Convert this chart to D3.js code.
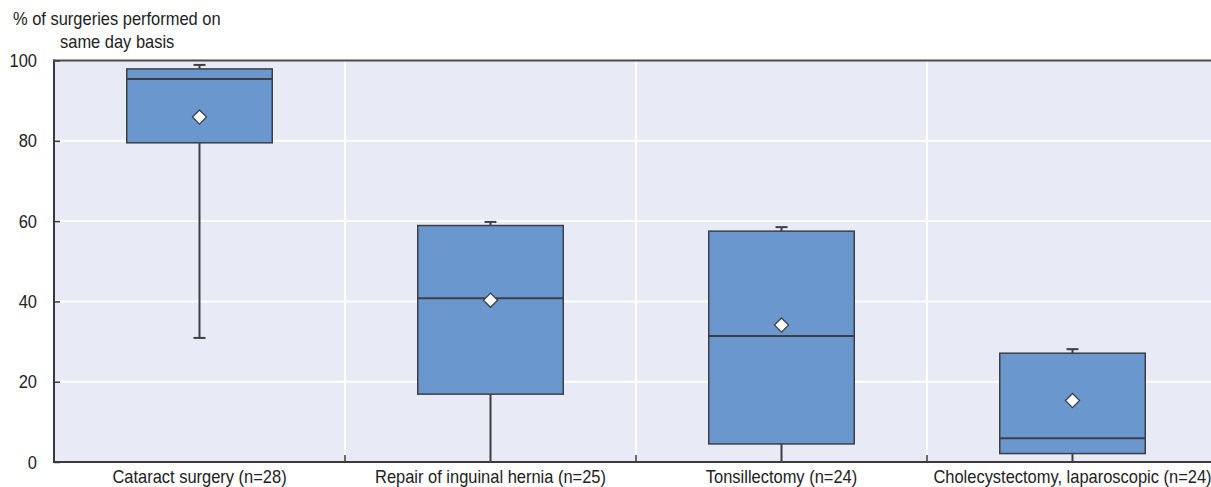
<!DOCTYPE html>
<html>
<head>
<meta charset="utf-8">
<script src="https://cdn.jsdelivr.net/npm/d3@7/dist/d3.min.js"></script>
<style>
  html, body { margin: 0; padding: 0; background: #ffffff; }
  svg { display: block; }
  text { font-family: "Liberation Sans", Arial, sans-serif; fill: #222; }
</style>
</head>
<body>
<svg id="chart" width="1211" height="487"></svg>
<script>
// Procedures and box-plot statistics (% of surgeries performed on a same-day basis)
const categories = [
  "Cataract surgery (n=28)",
  "Repair of inguinal hernia (n=25)",
  "Tonsillectomy (n=24)",
  "Cholecystectomy, laparoscopic (n=24)"
];
const whiskerLow  = [30.9, 0.0, 0.0, 0.0];
const quartile1   = [79.5, 16.9, 4.5, 2.1];
const medians     = [95.4, 40.8, 31.4, 5.9];
const quartile3   = [97.9, 58.9, 57.5, 27.1];
const whiskerHigh = [98.9, 59.8, 58.5, 28.1];
const means       = [85.9, 40.3, 34.1, 15.3];
const yTicks      = [0, 20, 40, 60, 80, 100];

const rows = categories.map((c, i) => ({
  cat: c, lo: whiskerLow[i], q1: quartile1[i], med: medians[i],
  q3: quartile3[i], hi: whiskerHigh[i], mean: means[i]
}));

const svg = d3.select("#chart");
const plotL = 54, plotR = 1218, plotT = 60.5, plotB = 462;

const x = d3.scaleBand().domain(categories).range([plotL, plotR]).padding(0);
const y = d3.scaleLinear().domain([0, 100]).range([plotB, plotT]);

const axisColor = "#3a3a3a";
const boxFill = "#6b97cf";
const boxStroke = "#3d3f45";
const fontSize = 18.5;
const squeeze = 0.89;   // condensed lettering

// text helper: condensed label placed at (tx, ty)
function label(parent, tx, ty, str, anchor) {
  parent.append("text")
    .attr("transform", `translate(${tx},${ty}) scale(${squeeze},1)`)
    .attr("text-anchor", anchor || "start")
    .attr("font-size", fontSize)
    .text(str);
}

// plot background
svg.append("rect")
  .attr("x", plotL).attr("y", plotT)
  .attr("width", plotR - plotL).attr("height", plotB - plotT)
  .attr("fill", "#e8ebf6");

// horizontal gridlines
svg.append("g").selectAll("line")
  .data(yTicks.filter(t => t > 0 && t < 100))
  .join("line")
  .attr("x1", plotL).attr("x2", plotR)
  .attr("y1", d => y(d)).attr("y2", d => y(d))
  .attr("stroke", "#ffffff").attr("stroke-width", 2);

// vertical separators between categories
const seps = categories.slice(1).map(c => x(c));
svg.append("g").selectAll("line")
  .data(seps)
  .join("line")
  .attr("x1", d => d).attr("x2", d => d)
  .attr("y1", plotT).attr("y2", plotB)
  .attr("stroke", "#ffffff").attr("stroke-width", 2);

// y axis ticks (pointing into the plot)
const yAxis = d3.axisRight(y).tickValues(yTicks).tickSize(6).tickFormat("");
const gy = svg.append("g").attr("transform", `translate(${plotL},0)`).call(yAxis);
gy.select(".domain").remove();
gy.selectAll(".tick line").attr("stroke", axisColor).attr("stroke-width", 1.5);

const yLabels = svg.append("g");
yTicks.forEach(t => label(yLabels, 37, y(t) + 6.5, String(t), "end"));

// x axis ticks at category boundaries (pointing up)
svg.append("g").selectAll("line")
  .data(seps)
  .join("line")
  .attr("x1", d => d).attr("x2", d => d)
  .attr("y1", plotB - 7).attr("y2", plotB)
  .attr("stroke", axisColor).attr("stroke-width", 1.5);

// frame lines: left, bottom, top
svg.append("line").attr("x1", plotL).attr("x2", plotL).attr("y1", plotT - 1).attr("y2", plotB + 1)
  .attr("stroke", axisColor).attr("stroke-width", 2);
svg.append("line").attr("x1", plotL - 1).attr("x2", plotR).attr("y1", plotB).attr("y2", plotB)
  .attr("stroke", axisColor).attr("stroke-width", 2);
svg.append("line").attr("x1", plotL - 1).attr("x2", plotR).attr("y1", plotT).attr("y2", plotT)
  .attr("stroke", "#4a4a4a").attr("stroke-width", 2);

// category labels
const xLabels = svg.append("g");
categories.forEach(c => label(xLabels, x(c) + x.bandwidth() / 2, 483, c, "middle"));

// boxes
const boxW = x.bandwidth() * 0.5;
const capW = 12;
const g = svg.append("g").selectAll("g").data(rows).join("g")
  .attr("transform", d => `translate(${x(d.cat) + x.bandwidth() / 2},0)`);

// whiskers
g.append("line")
  .attr("x1", 0).attr("x2", 0)
  .attr("y1", d => y(d.hi)).attr("y2", d => y(d.q3))
  .attr("stroke", boxStroke).attr("stroke-width", 2);
g.append("line")
  .attr("x1", 0).attr("x2", 0)
  .attr("y1", d => y(d.q1)).attr("y2", d => y(d.lo))
  .attr("stroke", boxStroke).attr("stroke-width", 2);
g.append("line")
  .attr("x1", -capW / 2).attr("x2", capW / 2)
  .attr("y1", d => y(d.hi)).attr("y2", d => y(d.hi))
  .attr("stroke", boxStroke).attr("stroke-width", 2);
g.filter(d => d.lo > 0).append("line")
  .attr("x1", -capW / 2).attr("x2", capW / 2)
  .attr("y1", d => y(d.lo)).attr("y2", d => y(d.lo))
  .attr("stroke", boxStroke).attr("stroke-width", 2);

// box
g.append("rect")
  .attr("x", -boxW / 2).attr("width", boxW)
  .attr("y", d => y(d.q3)).attr("height", d => y(d.q1) - y(d.q3))
  .attr("fill", boxFill).attr("stroke", boxStroke).attr("stroke-width", 1.5);

// median
g.append("line")
  .attr("x1", -boxW / 2).attr("x2", boxW / 2)
  .attr("y1", d => y(d.med)).attr("y2", d => y(d.med))
  .attr("stroke", boxStroke).attr("stroke-width", 2);

// mean marker: square turned 45 degrees
g.append("path")
  .attr("d", d3.symbol(d3.symbolSquare, 100)())
  .attr("transform", d => `translate(0,${y(d.mean)}) rotate(45)`)
  .attr("fill", "#ffffff").attr("stroke", boxStroke).attr("stroke-width", 1.3);

// axis title
const title = svg.append("g");
label(title, 13, 25, "% of surgeries performed on");
label(title, 60, 48, "same day basis");
</script>
</body>
</html>
